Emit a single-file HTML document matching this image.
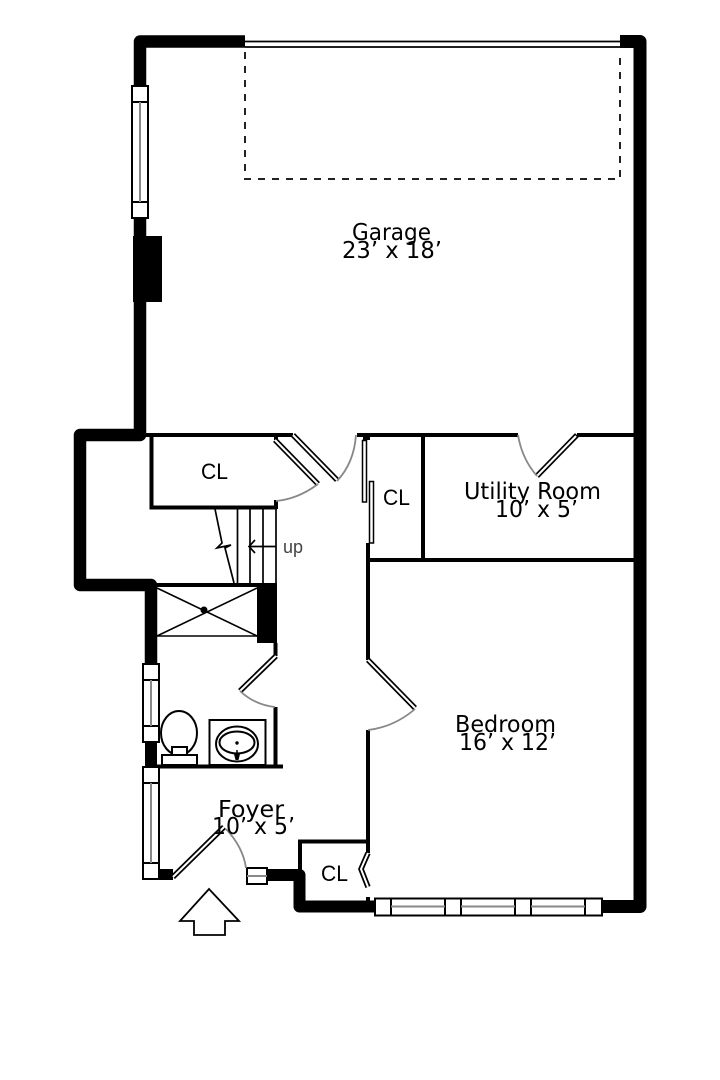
<!DOCTYPE html>
<html><head><meta charset="utf-8"><style>
html,body{margin:0;padding:0;background:#fff}
svg{display:block}
.t{font-family:"DejaVu Sans",sans-serif;font-size:23px;fill:#000}
.c{font-family:"Liberation Sans",sans-serif;font-size:22px;fill:#000}
</style></head><body>
<svg width="720" height="1080" viewBox="0 0 720 1080" xmlns="http://www.w3.org/2000/svg">
<rect width="720" height="1080" fill="#fff"/>
<!-- thick walls -->
<g fill="none" stroke="#000" stroke-linejoin="round">
<path d="M245 41.500H140V435H80V585H151V664" stroke-width="12.500"/>
<path d="M620 41.500H640V906.500H602" stroke-width="13"/>
<path d="M375 906.500H299.500V875H266" stroke-width="12"/>
<path d="M151 742V766" stroke-width="12"/>
<path d="M159 874.500H173" stroke-width="11"/>
</g>
<path d="M133 236H162V302H133Z" fill="#000"/>
<path d="M257 587H277V643H257Z" fill="#000"/>
<!-- thin walls -->
<g fill="none" stroke="#000" stroke-width="4">
<path d="M146 435H293"/>
<path d="M357 435H518"/>
<path d="M577 435H634"/>
<path d="M151.500 437V507.500H277"/>
<path d="M423 437V560"/>
<path d="M368 560H634"/>
<path d="M368 543V660"/>
<path d="M368 730V841.500H300V870"/>
<path d="M368 841V853"/>
<path d="M157 585H277" stroke-width="4"/>
<path d="M157 766.500H283"/>
<path d="M275.500 707V765"/>
<path d="M275.500 643V656"/>
</g>
<path d="M363 435H370V440H363Z" fill="#000"/>
<path d="M274 500H278V509H274Z" fill="#000"/>
<path d="M274 433H278V440H274Z" fill="#000"/>
<path d="M366 897H370V901H366Z" fill="#000"/>
<!-- garage door -->
<path d="M245 41.500H620M245 47H620" stroke="#000" stroke-width="1.800" fill="none"/>
<path d="M245 52V179H620V52" fill="none" stroke="#222" stroke-width="2" stroke-dasharray="7 7"/>
<!-- windows -->
<g fill="#fff" stroke="#000" stroke-width="2">
<rect x="132" y="86" width="16" height="132"/>
<path d="M132 102H148M132 202H148" fill="none"/>
<rect x="143" y="664" width="16" height="78"/>
<path d="M143 680H159M143 726H159" fill="none"/>
<rect x="143" y="767" width="16" height="112"/>
<path d="M143 783H159M143 863H159" fill="none"/>
<rect x="247" y="868" width="20" height="16"/>
<rect x="375" y="898.500" width="227" height="17"/>
<path d="M391 899V915M445 899V915M461 899V915M515 899V915M531 899V915M585 899V915" fill="none"/>
</g>
<g stroke="#888" stroke-width="2" fill="none">
<path d="M140 102V202"/>
<path d="M151 680V726"/>
<path d="M151 783V863"/>
<path d="M247 876H267"/>
<path d="M391 906.500H445M461 906.500H515M531 906.500H585"/>
</g>
<!-- door leaves (double line) -->
<g fill="none" stroke-linecap="butt" stroke-linejoin="miter">
<g stroke="#000" stroke-width="5.500">
<path d="M275 440L318 484"/>
<path d="M293 435L337 480"/>
<path d="M577 435L537 476"/>
<path d="M276 656L240 691"/>
<path d="M368 660L415 708"/>
<path d="M173 877L224 827"/>
<path d="M368 853L361 869L368 887"/>
</g>
<g stroke="#fff" stroke-width="2">
<path d="M275 440L318 484"/>
<path d="M293 435L337 480"/>
<path d="M576 436L537 476"/>
<path d="M276 656L240 691"/>
<path d="M368 660L415 708"/>
<path d="M173 877L224 827"/>
<path d="M368 853L361 869L368 887"/>
</g>
</g>
<!-- arcs -->
<g fill="none" stroke="#888" stroke-width="1.800">
<path d="M318 484Q298 499 276 501"/>
<path d="M337 481Q354 463 356 435"/>
<path d="M518 435Q522 459 537 476"/>
<path d="M240 691Q255 705 275 707"/>
<path d="M415 709Q394 727 368 730"/>
<path d="M226 829Q243 847 246 868"/>
</g>
<!-- sliding closet doors -->
<g fill="#fff" stroke="#000" stroke-width="1.500">
<rect x="362.500" y="440.500" width="4" height="61.500"/>
<rect x="369.500" y="481.500" width="4" height="61.500"/>
</g>
<!-- stairs -->
<g fill="none" stroke="#000" stroke-width="1.700">
<path d="M237.500 509V583M250 509V583M263 509V583M276 509V583"/>
<path d="M215 509L222 543L217 548L231 545L225 548L234 583"/>
<path d="M276 546.500H249"/>
<path d="M255 540L249 546.500L255 553"/>
</g>
<text x="283" y="553" font-family="'Liberation Sans',sans-serif" font-size="18" fill="#444">up</text>
<!-- elevator/closet X -->
<g fill="none" stroke="#000" stroke-width="1.600">
<path d="M157 588L257 636M157 636L257 588"/>
<path d="M157 636H257"/>
</g>
<circle cx="204" cy="610" r="3.500" fill="#000"/>
<!-- toilet and sink -->
<g fill="#fff" stroke="#000" stroke-width="2">
<ellipse cx="179" cy="733" rx="18" ry="22"/>
<rect x="172" y="747" width="15" height="8"/>
<rect x="162" y="755" width="35" height="10"/>
<rect x="209.500" y="720" width="56" height="45"/>
<ellipse cx="237" cy="744" rx="21" ry="17.500"/>
<ellipse cx="237" cy="742.500" rx="17.500" ry="11"/>
</g>
<circle cx="237" cy="743" r="1.700" fill="#000"/>
<path d="M234 754H240L238.500 760H235.500Z" fill="#000"/>
<path d="M237 750V756" stroke="#000" stroke-width="1.500"/>
<!-- entry arrow -->
<path d="M209 889L239 921H225V935H194V921H180Z" fill="#fff" stroke="#000" stroke-width="1.800"/>
<!-- labels -->
<text class="t" x="352" y="240" textLength="79" lengthAdjust="spacingAndGlyphs">Garage</text>
<text class="t" x="342" y="258" textLength="100" lengthAdjust="spacingAndGlyphs">23’ x 18’</text>
<text class="t" x="464" y="499" textLength="137" lengthAdjust="spacingAndGlyphs">Utility Room</text>
<text class="t" x="495" y="517" textLength="83" lengthAdjust="spacingAndGlyphs">10’ x 5’</text>
<text class="t" x="455" y="732" textLength="101" lengthAdjust="spacingAndGlyphs">Bedroom</text>
<text class="t" x="459" y="750" textLength="97" lengthAdjust="spacingAndGlyphs">16’ x 12’</text>
<text class="t" x="218" y="817" textLength="66" lengthAdjust="spacingAndGlyphs">Foyer</text>
<text class="t" x="212" y="834" textLength="83" lengthAdjust="spacingAndGlyphs">10’ x 5’</text>
<text class="c" x="201" y="479" textLength="27" lengthAdjust="spacingAndGlyphs">CL</text>
<text class="c" x="383" y="505" textLength="27" lengthAdjust="spacingAndGlyphs">CL</text>
<text class="c" x="321" y="881" textLength="27" lengthAdjust="spacingAndGlyphs">CL</text>
</svg>
</body></html>
